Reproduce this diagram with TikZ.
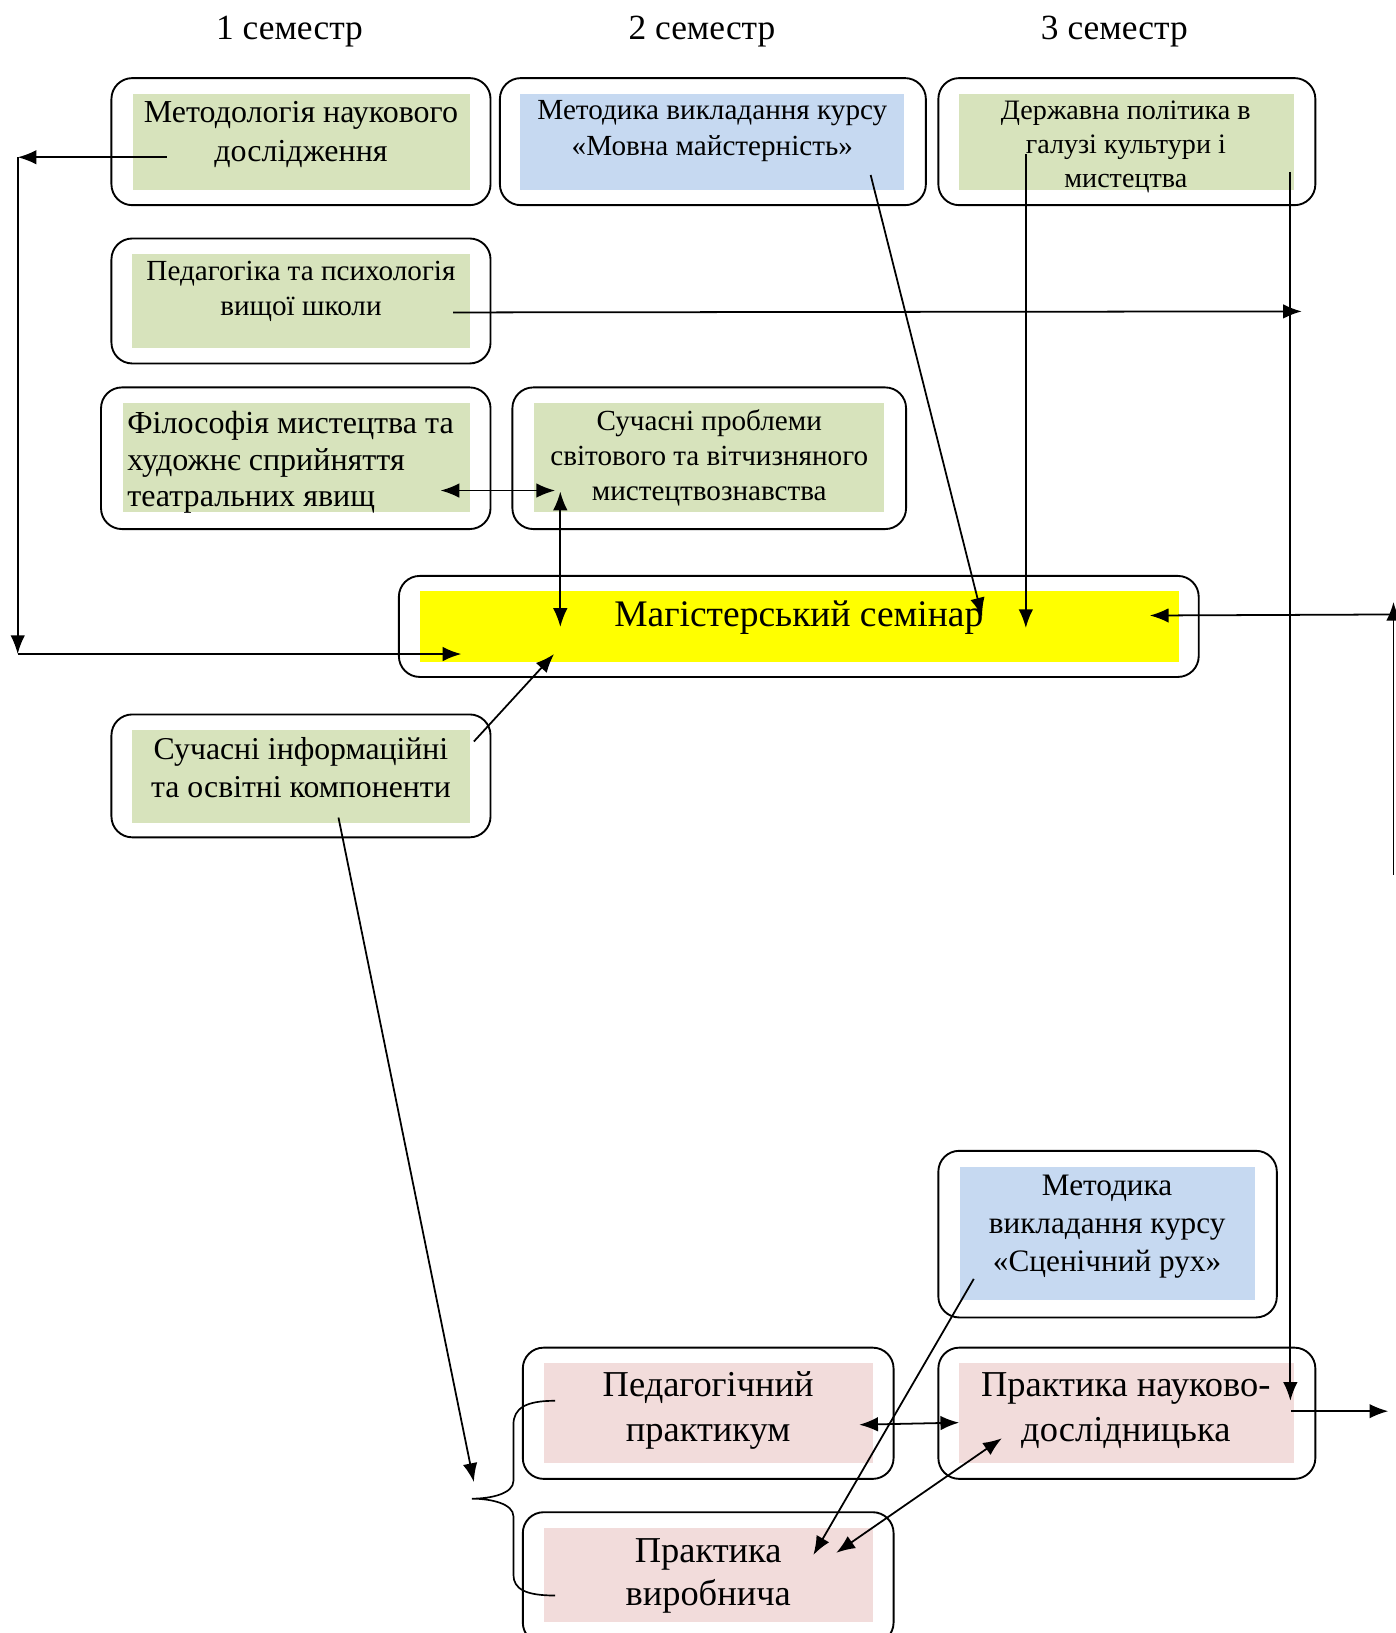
\documentclass[tikz,border=0pt]{standalone}
\usepackage{fontspec}
\setmainfont{Liberation Serif}
\usepackage{xcolor}
\usetikzlibrary{arrows.meta}

\definecolor{subjgreen}{RGB}{215,227,188}
\definecolor{subjblue}{RGB}{198,217,241}
\definecolor{practpink}{RGB}{242,220,219}
\definecolor{seminyellow}{RGB}{255,255,0}

\begin{document}
\begin{tikzpicture}[x=1pt,y=-1pt,
    frame/.style={draw, line width=1.8pt, rounded corners=20pt, fill=white},
    panel/.style={fill=#1, inner sep=0pt},
    lbl/.style={align=center, inner sep=0pt},
    con/.style={line width=1.7pt, -{Latex[length=18pt,width=14pt]}},
    dcon/.style={line width=1.7pt, {Latex[length=18pt,width=14pt]}-{Latex[length=18pt,width=14pt]}},
    plain/.style={line width=1.6pt}]
    \useasboundingbox (0,0) rectangle (1340,1568);

    % semesters
    \node[lbl, font=\fontsize{34}{40}\selectfont] (sem1) at (278,30) {1 семестр};
    \node[lbl, font=\fontsize{34}{40}\selectfont] (sem2) at (674,30) {2 семестр};
    \node[lbl, font=\fontsize{34}{40}\selectfont] (sem3) at (1070,30) {3 семестр};

    % boxes
    \node[frame, minimum width=364pt, minimum height=122pt] (metodF) at (289,136) {};
    \node[panel=subjgreen, minimum width=323pt, minimum height=92pt] (metod) at (289.5,136) {};
    \node[lbl, font=\fontsize{30.7}{37}\selectfont] (metodT) at (289,129) {Методологія наукового\\дослідження};

    \node[frame, minimum width=409pt, minimum height=122pt] (movaF) at (684.5,136) {};
    \node[panel=subjblue, minimum width=369pt, minimum height=92pt] (mova) at (683.5,136) {};
    \node[lbl, font=\fontsize{28}{34}\selectfont] (movaT) at (684,126) {Методика викладання курсу\\«Мовна майстерність»};

    \node[frame, minimum width=362pt, minimum height=122pt] (derzhF) at (1082,136) {};
    \node[panel=subjgreen, minimum width=321pt, minimum height=92pt] (derzh) at (1081.5,136) {};
    \node[lbl, font=\fontsize{27}{32.5}\selectfont] (derzhT) at (1081,141) {Державна політика в\\галузі культури і\\мистецтва};

    \node[frame, minimum width=364pt, minimum height=120pt] (pedF) at (289,289) {};
    \node[panel=subjgreen, minimum width=324pt, minimum height=90pt] (ped) at (289,289) {};
    \node[lbl, font=\fontsize{28}{34}\selectfont] (pedT) at (289,280) {Педагогіка та психологія\\вищої школи};

    \node[frame, minimum width=374pt, minimum height=136pt] (filF) at (284,440) {};
    \node[panel=subjgreen, minimum width=333pt, minimum height=105pt] (fil) at (284.5,439.5) {};
    \node[lbl, align=left, anchor=west, font=\fontsize{30.8}{35}\selectfont] (filT) at (122,444) {Філософія мистецтва та\\художнє сприйняття\\театральних явищ};

    \node[frame, minimum width=378pt, minimum height=136pt] (problF) at (681,440) {};
    \node[panel=subjgreen, minimum width=336pt, minimum height=105pt] (probl) at (681,439.5) {};
    \node[lbl, font=\fontsize{28}{33.5}\selectfont] (problT) at (681,439.5) {Сучасні проблеми\\світового та вітчизняного\\мистецтвознавства};

    \node[frame, minimum width=768pt, minimum height=97pt] (seminF) at (767,601.5) {};
    \node[panel=seminyellow, minimum width=729pt, minimum height=69pt] (semin) at (767.5,601.5) {};
    \node[lbl, font=\fontsize{36}{42}\selectfont] (seminT) at (767,593) {Магістерський семінар};

    \node[frame, minimum width=364pt, minimum height=118pt] (infF) at (289,745) {};
    \node[panel=subjgreen, minimum width=324pt, minimum height=89pt] (inf) at (289,745.5) {};
    \node[lbl, font=\fontsize{30.5}{36}\selectfont] (infT) at (289,737) {Сучасні інформаційні\\та освітні компоненти};

    \node[frame, minimum width=325pt, minimum height=160pt] (rukhF) at (1063.5,1185) {};
    \node[panel=subjblue, minimum width=283pt, minimum height=127pt] (rukh) at (1063.5,1184.5) {};
    \node[lbl, font=\fontsize{30}{36.5}\selectfont] (rukhT) at (1063,1178) {Методика\\викладання курсу\\«Сценічний рух»};

    \node[frame, minimum width=356pt, minimum height=126pt] (praktF) at (680,1357) {};
    \node[panel=practpink, minimum width=316pt, minimum height=96pt] (prakt) at (680,1357) {};
    \node[lbl, font=\fontsize{35}{43}\selectfont] (praktT) at (680,1354.5) {Педагогічний\\практикум};

    \node[frame, minimum width=362pt, minimum height=126pt] (naukF) at (1082,1357) {};
    \node[panel=practpink, minimum width=321pt, minimum height=96pt] (nauk) at (1081.5,1357) {};
    \node[lbl, font=\fontsize{35}{43}\selectfont] (naukT) at (1081,1354.5) {Практика науково-\\дослідницька};

    \node[frame, minimum width=356pt, minimum height=126pt] (vyrF) at (680,1515) {};
    \node[panel=practpink, minimum width=316pt, minimum height=90pt] (vyr) at (680,1512) {};
    \node[lbl, font=\fontsize{35}{41}\selectfont] (vyrT) at (680,1513.5) {Практика\\виробнича};

    % ends of connectors
    \coordinate (a1) at (160,151);
    \coordinate (l1) at (17,151);
    \coordinate (l2) at (17,628);
    \coordinate (g1) at (443,628);
    \coordinate (d1) at (435,300);
    \coordinate (r1) at (1250,299);
    \coordinate (c1) at (1239,165);
    \coordinate (k1) at (1239,1345);
    \coordinate (c2) at (985,148);
    \coordinate (g2) at (985,603);
    \coordinate (b1) at (836,168);
    \coordinate (g3) at (943,592);
    \coordinate (r2) at (1338,840);
    \coordinate (r3) at (1338,578);
    \coordinate (r4) at (1338,590);
    \coordinate (g4) at (1104,591);
    \coordinate (k2) at (1240,1355);
    \coordinate (r5) at (1333,1355);
    \coordinate (e1) at (423,471);
    \coordinate (f1) at (533,471);
    \coordinate (f2) at (538,472);
    \coordinate (g5) at (538,602);
    \coordinate (h1) at (455,712);
    \coordinate (g6) at (532,628);
    \coordinate (h2) at (325,785);
    \coordinate (br) at (455,1423);
    \coordinate (i1) at (935,1228);
    \coordinate (l3) at (781,1493);
    \coordinate (j1) at (825,1368);
    \coordinate (k3) at (921,1366);
    \coordinate (k4) at (962,1381);
    \coordinate (l4) at (803,1491);

    % connectors
    \draw[con] (a1) -- (l1);
    \draw[con] (l1) -- (l2);
    \draw[con] (l2) -- (g1);
    \draw[con] (d1) -- (r1);
    \draw[con] (c1) -- (k1);
    \draw[con] (c2) -- (g2);
    \draw[con] (b1) -- (g3);
    \draw[con] (r2) -- (r3);
    \draw[con] (r4) -- (g4);
    \draw[con] (k2) -- (r5);
    \draw[dcon] (e1) -- (f1);
    \draw[dcon] (f2) -- (g5);
    \draw[con] (h1) -- (g6);
    \draw[con] (h2) -- (br);
    \draw[con] (i1) -- (l3);
    \draw[dcon] (j1) -- (k3);
    \draw[dcon] (k4) -- (l4);

    % brace
    \draw[plain] (533,1345) .. controls (505,1345) and (493,1352) .. (493,1368) -- (493,1422)
      .. controls (493,1434) and (472,1439) .. (453,1439)
      .. controls (472,1439) and (493,1444) .. (493,1456) -- (493,1512)
      .. controls (493,1526) and (505,1532) .. (533,1532);
\end{tikzpicture}
\end{document}
